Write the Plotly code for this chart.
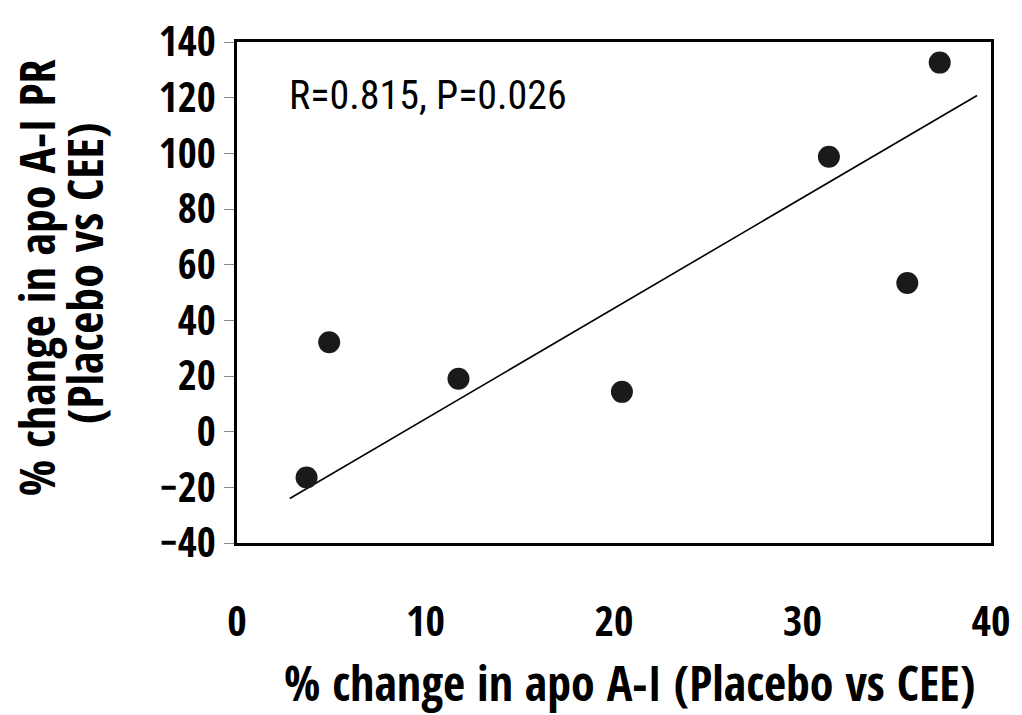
import plotly.graph_objects as go

x_vals = [3.69, 4.89, 11.75, 20.42, 31.4, 35.56, 37.28]
y_vals = [-16.5, 32.1, 19.0, 14.3, 98.8, 53.4, 132.6]
fit_x = [2.8, 39.26]
fit_y = [-24.0, 120.8]
x_ticks = [0, 10, 20, 30, 40]
y_ticks = [-40, -20, 0, 20, 40, 60, 80, 100, 120, 140]
stat_text = "R=0.815, P=0.026"
x_title = "% change in apo A-I (Placebo vs CEE)"
y_title_1 = "% change in apo A-I PR"
y_title_2 = "(Placebo vs CEE)"

cond = "Open Sans Condensed"

fig = go.Figure()
fig.add_trace(go.Scatter(x=fit_x, y=fit_y, mode="lines",
                         line=dict(color="black", width=1.6), showlegend=False))
fig.add_trace(go.Scatter(x=x_vals, y=y_vals, mode="markers",
                         marker=dict(size=22, color="#1a1a1a"), showlegend=False))

title_font = dict(family=cond, size=48, color="black", weight="bold")

fig.update_layout(
    width=1022, height=715,
    margin=dict(l=237, r=27, t=36, b=172),
    paper_bgcolor="white", plot_bgcolor="white",
    xaxis=dict(range=[0, 40], tickvals=x_ticks, ticks="", showgrid=False, zeroline=False,
               showline=True, linewidth=3, linecolor="black", mirror=True,
               tickfont=dict(family=cond, size=42, color="black", weight="bold"),
               ticklabelstandoff=40),
    yaxis=dict(range=[-40, 140], tickvals=y_ticks, ticks="outside", ticklen=10,
               tickcolor="#888888", tickwidth=1, showgrid=False, zeroline=False,
               showline=True, linewidth=3, linecolor="black", mirror=True,
               tickfont=dict(family=cond, size=41, color="black", weight="bold"),
               ticklabelstandoff=0),
    annotations=[
        dict(x=2.65, y=120.8, xref="x", yref="y", text=stat_text, showarrow=False,
             xanchor="left", yanchor="middle",
             font=dict(family="Roboto Condensed", size=40, color="black")),
        dict(x=0.521, y=-0.2781, xref="paper", yref="paper", text=x_title, showarrow=False,
             xanchor="center", yanchor="middle", font=title_font),
        dict(x=-0.2665, y=0.5286, xref="paper", yref="paper", text=y_title_1,
             showarrow=False, textangle=-90, xanchor="center", yanchor="middle",
             font=title_font),
        dict(x=-0.2032, y=0.5385, xref="paper", yref="paper", text=y_title_2,
             showarrow=False, textangle=-90, xanchor="center", yanchor="middle",
             font=title_font),
    ],
)

fig.write_html("out.html", config={"displayModeBar": False},
               post_script="document.body.style.margin='0';")
